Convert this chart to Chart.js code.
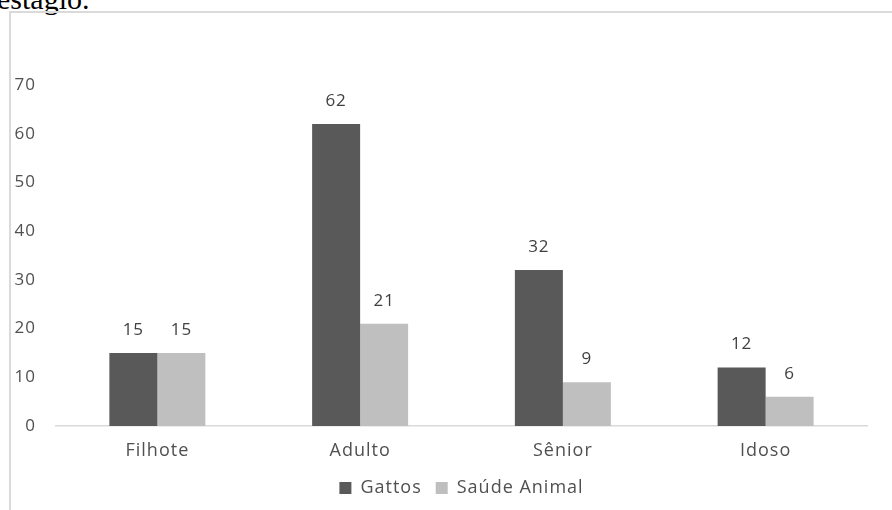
<!DOCTYPE html>
<html lang="pt">
<head>
<meta charset="utf-8">
<title>Gattos x Saúde Animal</title>
<script src="https://cdn.jsdelivr.net/npm/chart.js@4/dist/chart.umd.min.js"></script>
<style>
  html, body { margin: 0; padding: 0; background: #ffffff; }
  body { width: 892px; height: 510px; position: relative; overflow: hidden; }
  #lead {
    position: absolute; left: -3px; top: -16px;
    font-family: "Liberation Serif", "Times New Roman", serif;
    font-size: 30px; line-height: 30px; color: #000; white-space: nowrap;
  }
  #frame {
    position: absolute; left: 9px; top: 11px; right: -4px; bottom: -4px;
    border-left: 2px solid #dadada; border-top: 2px solid #dadada;
  }
  #wrap { position: absolute; left: 0; top: 0; width: 892px; height: 510px; }
</style>
</head>
<body>
<div id="lead">estágio.</div>
<div id="frame"></div>
<div id="wrap"><canvas id="chart" width="892" height="510"></canvas></div>
<script>
// Faixas etárias e número de gatos por origem
const categories = ['Filhote', 'Adulto', 'Sênior', 'Idoso'];
const gattos = [15, 62, 32, 12];
const saudeAnimal = [15, 21, 9, 6];
const yTicks = [0, 10, 20, 30, 40, 50, 60, 70];

const FONT = '"Open Sans", "Liberation Sans", sans-serif';

// Espaçamento entre letras para o texto desenhado no canvas
const spacingPlugin = {
  id: 'letterSpacing',
  beforeUpdate(chart) { chart.ctx.letterSpacing = '1px'; },
  beforeDraw(chart) { chart.ctx.letterSpacing = '1px'; }
};

// Rótulos de valor acima de cada barra
const valueLabels = {
  id: 'valueLabels',
  afterDatasetsDraw(chart) {
    const ctx = chart.ctx;
    ctx.save();
    ctx.letterSpacing = '1px';
    ctx.font = '17px ' + FONT;
    ctx.fillStyle = '#404040';
    ctx.textAlign = 'center';
    ctx.textBaseline = 'middle';
    chart.data.datasets.forEach((ds, i) => {
      chart.getDatasetMeta(i).data.forEach((bar, j) => {
        ctx.fillText(String(ds.data[j]), bar.x, bar.y - 23);
      });
    });
    ctx.restore();
  }
};

new Chart(document.getElementById('chart'), {
  type: 'bar',
  data: {
    labels: categories,
    datasets: [
      { label: 'Gattos', data: gattos, backgroundColor: '#595959', borderWidth: 0 },
      { label: 'Saúde Animal', data: saudeAnimal, backgroundColor: '#bfbfbf', borderWidth: 0 }
    ]
  },
  options: {
    responsive: false,
    animation: false,
    devicePixelRatio: 1,
    categoryPercentage: 0.4735,
    barPercentage: 1,
    layout: { padding: { top: 85, right: 25, bottom: 3, left: 0 } },
    plugins: {
      tooltip: { enabled: false },
      legend: {
        position: 'bottom',
        fullSize: false,
        labels: {
          color: '#505050',
          font: { family: FONT, size: 18 },
          boxWidth: 12,
          boxHeight: 12,
          padding: 14
        }
      }
    },
    scales: {
      x: {
        grid: { display: false, drawTicks: false },
        border: { display: true, color: '#d9d9d9', width: 1.5 },
        ticks: { color: '#505050', font: { family: FONT, size: 18 }, padding: 14, maxRotation: 0 },
        afterFit(scale) { scale.height = 39; }
      },
      y: {
        min: 0,
        max: 70,
        grid: { display: false, drawTicks: false },
        border: { display: false },
        afterBuildTicks(scale) { scale.ticks = yTicks.map(v => ({ value: v })); },
        ticks: { color: '#505050', font: { family: FONT, size: 17 }, padding: 20 },
        afterFit(scale) { scale.width = 56; }
      }
    }
  },
  plugins: [spacingPlugin, valueLabels]
});
</script>
</body>
</html>
